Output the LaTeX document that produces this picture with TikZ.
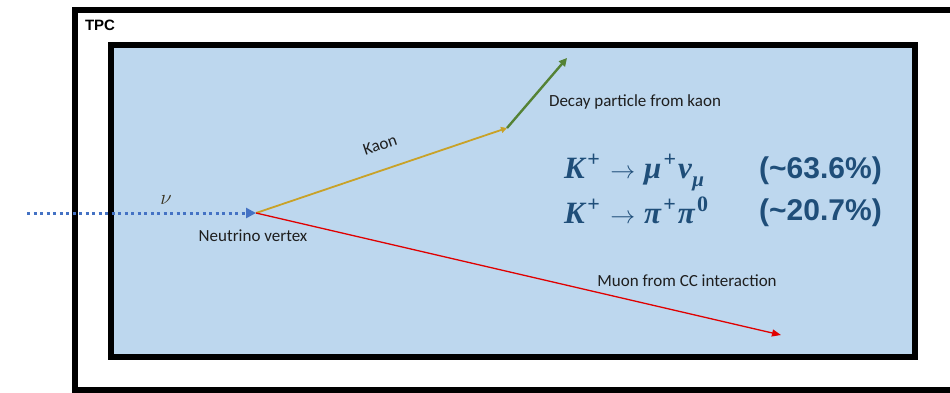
\documentclass[tikz,border=0pt]{standalone}
\usepackage{amsmath}
\usepackage{fontspec}
\setmainfont{Carlito}
\newfontfamily\arialfont{Liberation Sans}
\newfontfamily\formfont{Liberation Serif}
\usetikzlibrary{arrows.meta}
\definecolor{tpcblue}{HTML}{BDD7EE}
\definecolor{nublue}{HTML}{4472C4}
\definecolor{kaongold}{HTML}{C9A227}
\definecolor{decgreen}{HTML}{548235}
\definecolor{muonred}{HTML}{E00000}
\definecolor{formblue}{HTML}{1F4E79}
\definecolor{labelgray}{HTML}{1E1E1E}
\definecolor{nucolor}{HTML}{3A3320}
\newcommand{\bsup}[1]{\hspace{0.08em}\raisebox{0.36em}{\fontsize{22}{24}\selectfont\upshape\bfseries #1}\hspace{0.06em}}
\newcommand{\bsub}[1]{\hspace{0.02em}\raisebox{-0.28em}{\fontsize{21}{23}\selectfont\bfseries\itshape #1}}
\newcommand{\barr}{\hspace{0.28em}{\fontsize{28}{30}\selectfont$\rightarrow$}\hspace{0.28em}}
\tikzset{
  frame/.style={draw=black, line width=6pt},
  lbl/.style={text=labelgray, font=\fontsize{17}{19}\selectfont, inner sep=0pt},
  form/.style={text=formblue, font=\formfont\bfseries\itshape\fontsize{31}{33}\selectfont, inner sep=0pt, anchor=base west},
  pct/.style={text=formblue, font=\arialfont\bfseries\fontsize{30}{32}\selectfont, inner sep=0pt, anchor=base west},
}
\begin{document}
\begin{tikzpicture}[x=1pt,y=-1pt]
\useasboundingbox (0,0) rectangle (950,392);
\begin{scope}
\clip (0,0) rectangle (950,392);
\draw[frame] (75,10) rectangle (960,390);
\end{scope}
\node[font=\arialfont\bfseries\fontsize{15}{17}\selectfont, inner sep=0pt] (tpc) at (100,25) {TPC};
\draw[frame, fill=tpcblue] (111,45) rectangle (915,357);
\coordinate (start) at (27,213);
\coordinate (vtx) at (256,213);
\coordinate (kend) at (507,128);
\coordinate (dend) at (567,58);
\coordinate (mend) at (781,335);
\draw[nublue, line width=3pt, dash pattern=on 3pt off 3.5pt, -{Triangle[length=10pt,width=10pt]}] (start) -- (vtx);
\node[text=nucolor, font=\fontsize{22}{24}\selectfont, inner sep=0pt] (nu) at (166,200) {$\nu$};
\draw[kaongold, line width=1.8pt, -{Triangle[length=6pt,width=6pt]}] (vtx) -- (kend);
\draw[decgreen, line width=2.4pt, -{Triangle[length=8pt,width=8pt]}] (kend) -- (dend);
\draw[muonred, line width=1.3pt, -{Triangle[length=9pt,width=7pt]}] (vtx) -- (mend);
\node[lbl, rotate=18.6] (kaon) at (380,145) {Kaon};
\node[lbl] (dec) at (635,102) {Decay particle from kaon};
\node[lbl] (nv) at (253,236) {Neutrino vertex};
\node[lbl] (muon) at (687,281) {Muon from CC interaction};
\node[form] (f1) at (564,178) {K\bsup{+}\barr μ\bsup{+}ν\bsub{μ}};
\node[form] (f2) at (564,223) {K\bsup{+}\barr π\bsup{+}π\bsup{0}};
\node[pct] (p1) at (759,178) {(\textasciitilde63.6\%)};
\node[pct] (p2) at (759,220) {(\textasciitilde20.7\%)};
\end{tikzpicture}
\end{document}
